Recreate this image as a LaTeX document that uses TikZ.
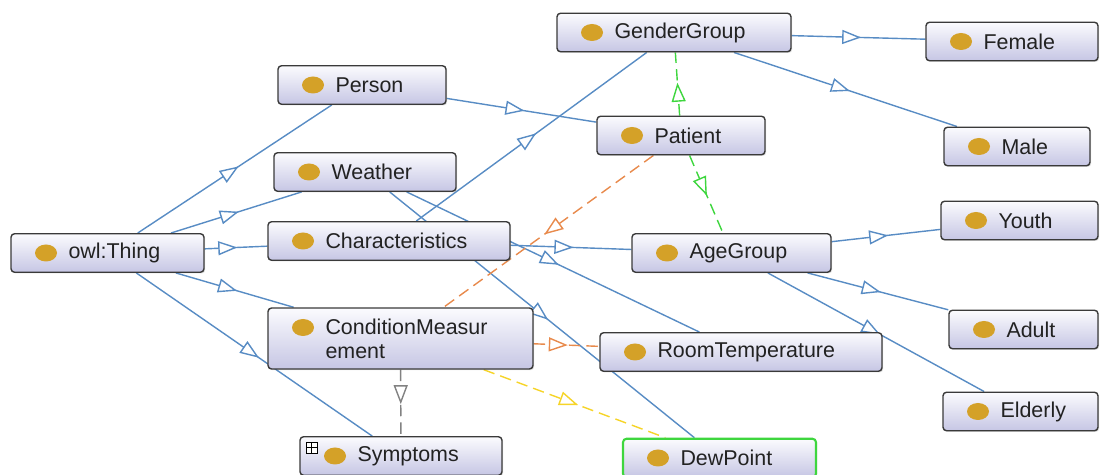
\documentclass[tikz,border=0pt]{standalone}
\usepackage{fontspec}
\setmainfont{Liberation Sans}
\usepackage{tikz}
\usetikzlibrary{arrows.meta,decorations.markings,shadows}
\pgfdeclarelayer{edgelayer}
\pgfsetlayers{edgelayer,main}
\definecolor{clsborder}{RGB}{58,58,58}
\definecolor{clstop}{RGB}{251,251,254}
\definecolor{clsbot}{RGB}{198,198,228}
\definecolor{clsdot}{RGB}{212,161,40}
\definecolor{isablue}{RGB}{88,140,196}
\definecolor{relorange}{RGB}{232,138,76}
\definecolor{relyellow}{RGB}{246,212,40}
\definecolor{relgreen}{RGB}{62,214,62}
\definecolor{relgray}{RGB}{130,130,130}
\definecolor{clstext}{RGB}{34,34,34}
\newcommand{\ind}{\hspace*{1.15cm}}
\tikzset{
cls/.style={draw=clsborder, line width=0.8pt, rounded corners=2pt,
  top color=clstop, bottom color=clsbot, text=clstext,
  drop shadow={shadow xshift=0.7pt, shadow yshift=-0.7pt, opacity=0.25},
  inner xsep=0pt, inner ysep=0pt, minimum width=#1, text width=#1,
  minimum height=0.77cm, align=left, font=\fontsize{12.2}{13.7}\selectfont,
  path picture={\fill[clsdot] ([xshift=0.7cm]path picture bounding box.west) ellipse (0.22cm and 0.17cm);}},
clstwo/.style={minimum height=1.22cm,
  path picture={\fill[clsdot] ([xshift=0.7cm,yshift=0.22cm]path picture bounding box.west) ellipse (0.22cm and 0.17cm);}},
rel/.style={draw=#1, line width=0.8pt, postaction={decorate},
  decoration={markings, mark=at position 0.52 with {\arrow[color=#1]{Triangle[fill=white,length=0.38cm,width=0.28cm]}}}},
reldash/.style={rel=#1, dash pattern=on 6.5pt off 3.5pt},
plusbox/.style={draw=black, line width=0.4pt, fill=white, minimum size=0.22cm, inner sep=0pt,
  path picture={\draw[line width=0.5pt] (path picture bounding box.west) -- (path picture bounding box.east)
    (path picture bounding box.north) -- (path picture bounding box.south);}}
}

\begin{document}
\begin{tikzpicture}[x=0.02cm,y=-0.02cm]
\useasboundingbox (0,0) rectangle (1100,475);
\node[cls=3.86cm] (thing) at (107.5,253) {\ind owl:Thing};
\node[cls=3.36cm] (person) at (362,85) {\ind Person};
\node[cls=3.64cm] (weather) at (365,172) {\ind Weather};
\node[cls=4.84cm] (charac) at (389,241) {\ind Characteristics};
\node[cls=5.30cm, clstwo] (cond) at (400.5,338.5) {\ind ConditionMeasur\\\ind ement};
\node[cls=4.04cm] (sympt) at (401,456) {\ind Symptoms};
\node[plusbox, anchor=north west] (symptplus) at ([xshift=0.13cm,yshift=-0.12cm]sympt.north west) {};
\node[cls=4.68cm] (gender) at (674,32.5) {\ind GenderGroup};
\node[cls=3.36cm] (patient) at (681,135.5) {\ind Patient};
\node[cls=3.98cm] (age) at (731.5,253) {\ind AgeGroup};
\node[cls=5.64cm] (room) at (741,352) {\ind RoomTemperature};
\node[cls=3.86cm, draw=relgreen, line width=1.2pt] (dew) at (719.5,458) {\ind DewPoint};
\node[cls=3.44cm] (female) at (1012,41.5) {\ind Female};
\node[cls=2.92cm] (male) at (1017,146.5) {\ind Male};
\node[cls=3.14cm] (youth) at (1019.5,220.5) {\ind Youth};
\node[cls=2.98cm] (adult) at (1023.5,329.5) {\ind Adult};
\node[cls=3.10cm] (elderly) at (1020.5,411.5) {\ind Elderly};

\begin{pgfonlayer}{edgelayer}
\draw[rel=isablue] (thing) -- (person);
\draw[rel=isablue] (thing) -- (weather);
\draw[rel=isablue] (thing) -- (charac);
\draw[rel=isablue] (thing) -- (cond);
\draw[rel=isablue] (thing) -- (sympt);
\draw[rel=isablue] (person) -- (patient);
\draw[rel=isablue] (charac) -- (gender);
\draw[rel=isablue] (charac) -- (age);
\draw[rel=isablue] (weather) -- (room);
\draw[rel=isablue] (weather) -- (dew);
\draw[rel=isablue] (gender) -- (female);
\draw[rel=isablue] (gender) -- (male);
\draw[rel=isablue] (age) -- (youth);
\draw[rel=isablue] (age) -- (adult);
\draw[rel=isablue] (age) -- (elderly);
\draw[reldash=relgreen] (patient) -- (gender);
\draw[reldash=relgreen] (patient) -- (age);
\draw[reldash=relorange] (patient) -- (cond);
\draw[reldash=relorange] (cond) -- (room);
\draw[reldash=relyellow] (cond) -- (dew);
\draw[reldash=relgray] (cond) -- (sympt);
\end{pgfonlayer}
\end{tikzpicture}
\end{document}
